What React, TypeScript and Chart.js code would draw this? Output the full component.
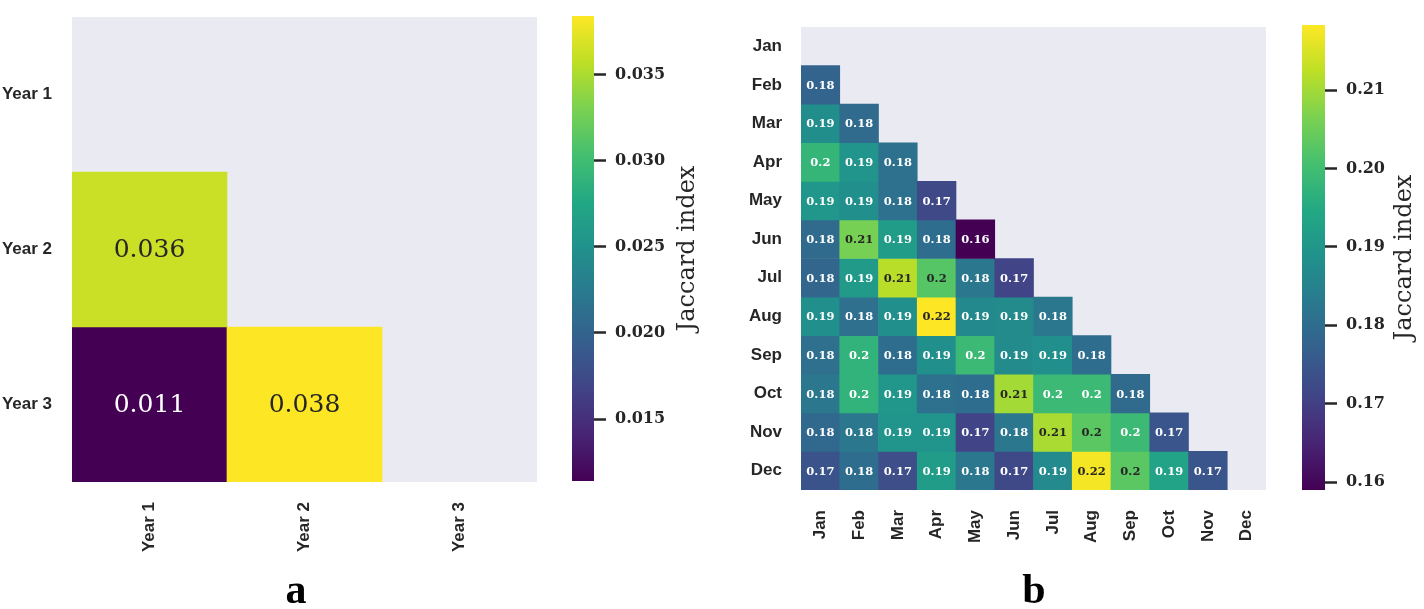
import React, { useEffect, useRef } from 'react';
import { Chart, registerables } from 'chart.js';

Chart.register(...registerables);

// ---------- data ----------
const YEARS = ['Year 1', 'Year 2', 'Year 3'];
// lower triangle rows (row i holds columns 0..i-1)
const YEAR_VALUES: number[][] = [
  [],
  [0.0362],
  [0.0114, 0.0384],
];
const YEAR_TICKS = [0.015, 0.02, 0.025, 0.03, 0.035];

const MONTHS = ['Jan', 'Feb', 'Mar', 'Apr', 'May', 'Jun', 'Jul', 'Aug', 'Sep', 'Oct', 'Nov', 'Dec'];
const MONTH_VALUES: number[][] = [
  [],
  [0.178],
  [0.188, 0.1797],
  [0.198, 0.1897, 0.181],
  [0.19, 0.1885, 0.181, 0.172],
  [0.1797, 0.206, 0.1914, 0.18, 0.159],
  [0.1785, 0.191, 0.212, 0.2025, 0.1826, 0.1708],
  [0.1885, 0.1808, 0.1885, 0.2183, 0.1867, 0.1873, 0.1826],
  [0.1808, 0.1973, 0.1802, 0.1885, 0.199, 0.1873, 0.1885, 0.18],
  [0.1826, 0.1973, 0.19, 0.181, 0.18, 0.2102, 0.199, 0.199, 0.1797],
  [0.179, 0.1826, 0.1896, 0.1896, 0.1708, 0.1826, 0.2107, 0.203, 0.199, 0.1745],
  [0.1742, 0.18, 0.173, 0.1914, 0.1826, 0.172, 0.187, 0.2175, 0.203, 0.193, 0.1745],
];
const MONTH_TICKS = [0.16, 0.17, 0.18, 0.19, 0.2, 0.21];

const COLORBAR_LABEL = 'Jaccard index';
const PANEL_LETTERS = ['a', 'b'];

// ---------- colour helpers ----------
const VIRIDIS = ['#440154', '#482475', '#414487', '#355f8d', '#2a788e', '#21918c', '#22a884', '#44bf70', '#7ad151', '#bddf26', '#fde725'];
const hexToRgb = (h: string) => [parseInt(h.slice(1, 3), 16), parseInt(h.slice(3, 5), 16), parseInt(h.slice(5, 7), 16)];
const VIR_RGB = VIRIDIS.map(hexToRgb);

function viridis(t: number): number[] {
  const tt = Math.max(0, Math.min(1, t));
  const p = tt * (VIR_RGB.length - 1);
  const i = Math.min(Math.floor(p), VIR_RGB.length - 2);
  const f = p - i;
  return [0, 1, 2].map((k) => Math.round(VIR_RGB[i][k] + (VIR_RGB[i + 1][k] - VIR_RGB[i][k]) * f));
}
const rgbStr = (c: number[]) => `rgb(${c[0]},${c[1]},${c[2]})`;
function luminance(c: number[]) {
  const lin = c.map((v) => {
    const s = v / 255;
    return s <= 0.03928 ? s / 12.92 : Math.pow((s + 0.055) / 1.055, 2.4);
  });
  return 0.2126 * lin[0] + 0.7152 * lin[1] + 0.0722 * lin[2];
}
const fmt = (v: number) => String(Number(v.toPrecision(2)));
function rangeOf(rows: number[][]) {
  const all = rows.flat();
  return [Math.min(...all), Math.max(...all)];
}

const TEXT_DARK = '#262626';
const MASK_BG = '#EAEAF2';

const zeroPad = (s: any) => {
  s.paddingTop = 0;
  s.paddingBottom = 0;
  s.paddingLeft = 0;
  s.paddingRight = 0;
};

// ---------- configs ----------
type HeatOpts = {
  labels: string[];
  values: number[][];
  yAxisW: number;
  xAxisH: number;
  padTop: number;
  padRight: number;
  yPad: number;
  xPad: number;
  annotFont: string;
};

function heatmapConfig(o: HeatOpts): any {
  const [vmin, vmax] = rangeOf(o.values);
  const n = o.labels.length;
  const colorOf = (v: number) => viridis((v - vmin) / (vmax - vmin));
  const datasets = o.values.map((row, i) => ({
    label: o.labels[i],
    data: o.labels.map((_, j) => (j < row.length ? [i - 0.5, i + 0.5] : null)),
    backgroundColor: o.labels.map((_, j) => (j < row.length ? rgbStr(colorOf(row[j])) : 'rgba(0,0,0,0)')),
    grouped: false,
    barPercentage: 1,
    categoryPercentage: 1,
    borderWidth: 0,
  }));
  const tickFont = { family: '"Liberation Sans", Arial, sans-serif', size: 17, weight: 'bold' };
  return {
    type: 'bar',
    data: { labels: o.labels, datasets },
    options: {
      animation: false,
      responsive: false,
      maintainAspectRatio: false,
      layout: { padding: { top: o.padTop, right: o.padRight, left: 0, bottom: 0 } },
      plugins: { legend: { display: false }, tooltip: { enabled: false } },
      scales: {
        x: {
          type: 'category',
          grid: { display: false, drawTicks: false },
          border: { display: false },
          ticks: { maxRotation: 90, minRotation: 90, autoSkip: false, padding: o.xPad, font: tickFont, color: TEXT_DARK },
          afterFit: (s: any) => { s.height = o.xAxisH; zeroPad(s); },
        },
        y: {
          type: 'linear',
          reverse: true,
          min: -0.5,
          max: n - 0.5,
          grid: { display: false, drawTicks: false },
          border: { display: false },
          afterBuildTicks: (s: any) => { s.ticks = o.labels.map((_, i) => ({ value: i })); },
          ticks: {
            autoSkip: false,
            padding: o.yPad,
            font: tickFont,
            color: TEXT_DARK,
            callback: (v: any) => o.labels[v] ?? '',
          },
          afterFit: (s: any) => { s.width = o.yAxisW; zeroPad(s); },
        },
      },
    },
    plugins: [
      {
        id: 'maskBg',
        beforeDatasetsDraw(chart: any) {
          const { ctx, chartArea: a } = chart;
          ctx.save();
          ctx.fillStyle = MASK_BG;
          ctx.fillRect(a.left, a.top, a.right - a.left, a.bottom - a.top);
          ctx.restore();
        },
      },
      {
        id: 'annot',
        afterDatasetsDraw(chart: any) {
          const { ctx } = chart;
          const xs = chart.scales.x;
          const ys = chart.scales.y;
          ctx.save();
          ctx.font = o.annotFont;
          ctx.textAlign = 'center';
          ctx.textBaseline = 'middle';
          o.values.forEach((row, i) => {
            row.forEach((v, j) => {
              const c = colorOf(v);
              ctx.fillStyle = luminance(c) > 0.408 ? TEXT_DARK : '#ffffff';
              ctx.fillText(fmt(v), xs.getPixelForValue(j), ys.getPixelForValue(i) + 1);
            });
          });
          ctx.restore();
        },
      },
    ],
  };
}

type CbarOpts = {
  values: number[][];
  ticks: number[];
  decimals: number;
  padLeft: number;
  padTop: number;
  padBottom: number;
  axisW: number;
  titleX: number;
};

function colorbarConfig(o: CbarOpts): any {
  const [vmin, vmax] = rangeOf(o.values);
  return {
    type: 'bar',
    data: {
      labels: [''],
      datasets: [
        {
          data: [[vmin, vmax]],
          barPercentage: 1,
          categoryPercentage: 1,
          borderWidth: 0,
          inflateAmount: 0,
          backgroundColor: (c: any) => {
            const area = c.chart.chartArea;
            if (!area) return 'rgba(0,0,0,0)';
            const g = c.chart.ctx.createLinearGradient(0, area.bottom, 0, area.top);
            VIRIDIS.forEach((h, i) => g.addColorStop(i / (VIRIDIS.length - 1), h));
            return g;
          },
        },
      ],
    },
    options: {
      animation: false,
      responsive: false,
      maintainAspectRatio: false,
      layout: { padding: { left: o.padLeft, top: o.padTop, bottom: o.padBottom, right: 0 } },
      plugins: { legend: { display: false }, tooltip: { enabled: false } },
      scales: {
        x: { display: false },
        y: {
          type: 'linear',
          position: 'right',
          min: vmin,
          max: vmax,
          border: { display: false },
          grid: { display: true, drawOnChartArea: false, drawTicks: true, tickLength: 12, tickWidth: 2.5, tickColor: TEXT_DARK },
          afterBuildTicks: (s: any) => { s.ticks = o.ticks.map((v) => ({ value: v })); },
          ticks: {
            padding: 9,
            color: TEXT_DARK,
            font: { family: '"DejaVu Serif", serif', size: 16, weight: 'bold' },
            callback: (v: any) => Number(v).toFixed(o.decimals),
          },
          afterFit: (s: any) => { s.width = o.axisW; zeroPad(s); },
        },
      },
    },
    plugins: [
      {
        id: 'cbTitle',
        afterDraw(chart: any) {
          const { ctx, chartArea: a } = chart;
          ctx.save();
          ctx.translate(o.titleX, (a.top + a.bottom) / 2);
          ctx.rotate(-Math.PI / 2);
          ctx.font = '24px "DejaVu Serif", serif';
          ctx.fillStyle = TEXT_DARK;
          ctx.textAlign = 'center';
          ctx.textBaseline = 'middle';
          ctx.fillText(COLORBAR_LABEL, 0, 0);
          ctx.restore();
        },
      },
    ],
  };
}

function ChartCanvas(props: { left: number; top: number; width: number; height: number; make: () => any }) {
  const ref = useRef<HTMLCanvasElement>(null);
  useEffect(() => {
    const chart = new Chart(ref.current as HTMLCanvasElement, props.make());
    return () => chart.destroy();
  }, []);
  return (
    <canvas
      ref={ref}
      width={props.width}
      height={props.height}
      style={{ position: 'absolute', left: props.left, top: props.top, width: props.width, height: props.height }}
    />
  );
}

const letterStyle = (cx: number): React.CSSProperties => ({
  position: 'absolute',
  left: cx - 50,
  width: 100,
  top: 568,
  textAlign: 'center',
  fontFamily: '"Liberation Serif", "Times New Roman", serif',
  fontWeight: 'bold',
  fontSize: 42,
  lineHeight: '42px',
  color: '#000',
});

export default function App() {
  return (
    <div style={{ position: 'fixed', left: 0, top: 0, width: 1424, height: 609, background: '#fff', overflow: 'hidden' }}>
      <ChartCanvas
        left={0}
        top={0}
        width={560}
        height={570}
        make={() =>
          heatmapConfig({
            labels: YEARS,
            values: YEAR_VALUES,
            yAxisW: 72,
            xAxisH: 88,
            padTop: 17,
            padRight: 23,
            yPad: 20,
            xPad: 20,
            annotFont: '25px "DejaVu Serif", serif',
          })
        }
      />
      <ChartCanvas
        left={560}
        top={0}
        width={150}
        height={570}
        make={() =>
          colorbarConfig({
            values: YEAR_VALUES,
            ticks: YEAR_TICKS,
            decimals: 3,
            padLeft: 12,
            padTop: 16,
            padBottom: 89,
            axisW: 116,
            titleX: 128,
          })
        }
      />
      <ChartCanvas
        left={710}
        top={0}
        width={570}
        height={570}
        make={() =>
          heatmapConfig({
            labels: MONTHS,
            values: MONTH_VALUES,
            yAxisW: 91,
            xAxisH: 80,
            padTop: 27,
            padRight: 14,
            yPad: 19,
            xPad: 20,
            annotFont: 'bold 11.5px "DejaVu Serif", serif',
          })
        }
      />
      <ChartCanvas
        left={1290}
        top={0}
        width={134}
        height={570}
        make={() =>
          colorbarConfig({
            values: MONTH_VALUES,
            ticks: MONTH_TICKS,
            decimals: 2,
            padLeft: 12,
            padTop: 25,
            padBottom: 80,
            axisW: 99,
            titleX: 115,
          })
        }
      />
      <div style={letterStyle(296)}>{PANEL_LETTERS[0]}</div>
      <div style={letterStyle(1034)}>{PANEL_LETTERS[1]}</div>
    </div>
  );
}
